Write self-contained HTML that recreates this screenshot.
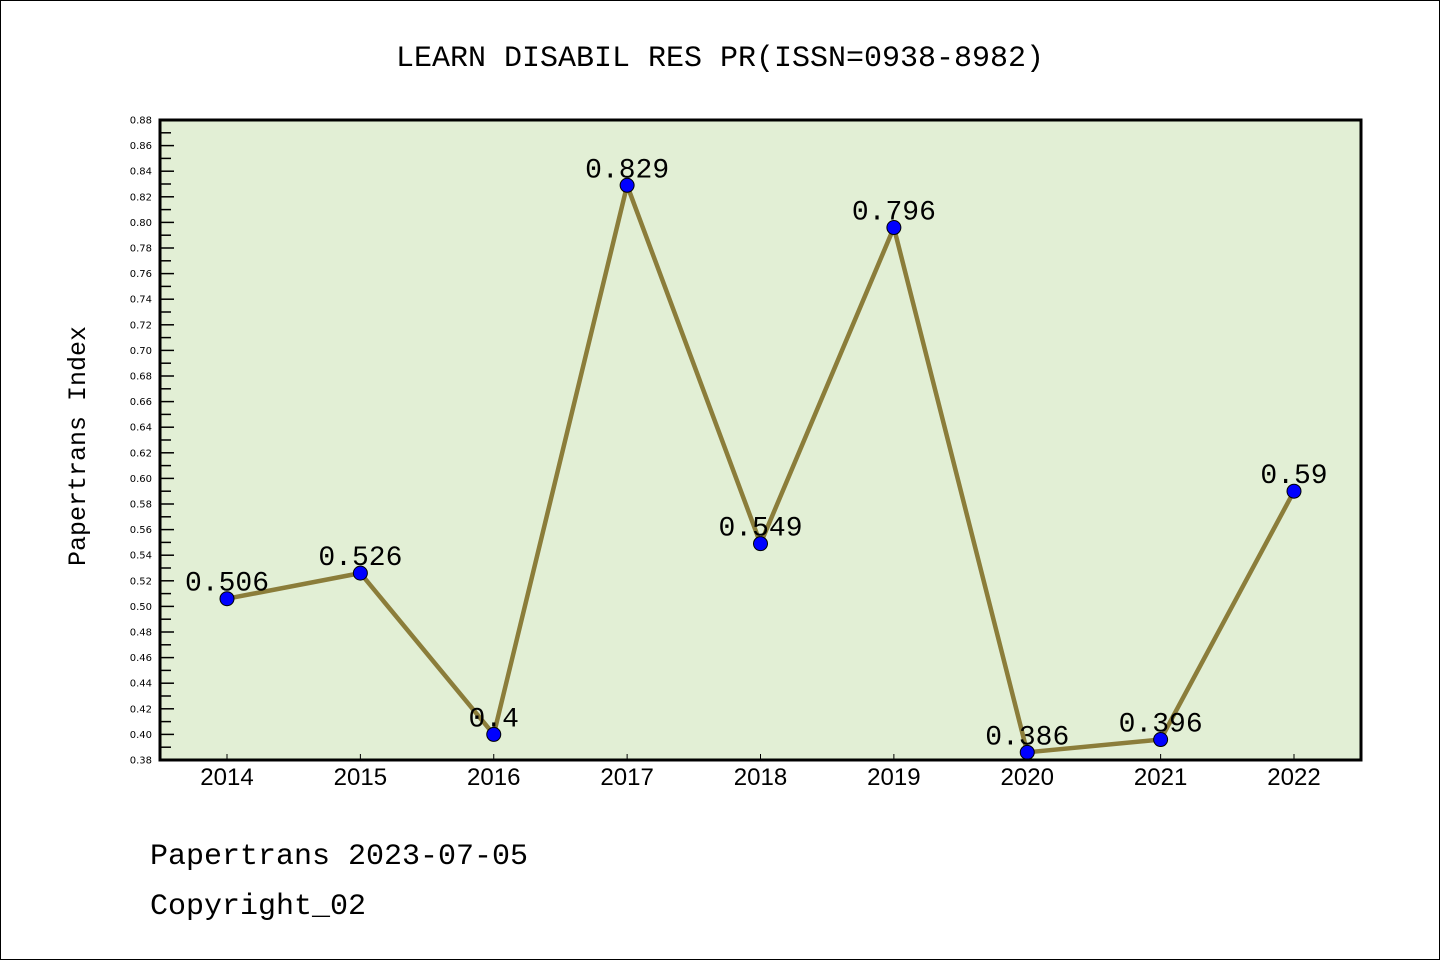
<!DOCTYPE html>
<html><head><meta charset="utf-8"><style>
html,body{margin:0;padding:0;background:#fff}
svg{display:block}
</style></head><body>
<svg id="chart" width="1440" height="960" xmlns="http://www.w3.org/2000/svg" font-family="'Liberation Mono','DejaVu Sans Mono',monospace">
<rect x="0.5" y="0.5" width="1439" height="959" fill="#fff" stroke="#000" stroke-width="1"/>
<text x="720" y="66" text-anchor="middle" font-size="30">LEARN DISABIL RES PR(ISSN=0938-8982)</text>
<rect x="160" y="120" width="1201" height="640" fill="#e2efd5"/>
<g id="yaxis"></g>
<g id="xaxis"></g>
<g id="series"></g>
<rect x="160" y="120" width="1201" height="640" fill="none" stroke="#000" stroke-width="3"/>
<text transform="translate(85,446) rotate(-90)" text-anchor="middle" font-size="25">Papertrans Index</text>
<text x="150" y="864" font-size="30">Papertrans 2023-07-05</text>
<text x="150" y="914" font-size="30">Copyright_02</text>
</svg>
<script>
const years = ['2014','2015','2016','2017','2018','2019','2020','2021','2022'];
const values = [0.506,0.526,0.4,0.829,0.549,0.796,0.386,0.396,0.59];
const valueLabels = ['0.506','0.526','0.4','0.829','0.549','0.796','0.386','0.396','0.59'];
const yMin = 0.38, yMax = 0.88, yStep = 0.02;

const NS='http://www.w3.org/2000/svg';
const x0=227, x1=1294, plotTop=120, plotBot=760;
function xs(i){return x0+(x1-x0)*i/(years.length-1);}
function ys(v){return plotBot-(v-yMin)/(yMax-yMin)*(plotBot-plotTop);}
function mk(tag,attrs,parent){const e=document.createElementNS(NS,tag);for(const k in attrs)e.setAttribute(k,attrs[k]);parent.appendChild(e);return e;}

const ya=document.getElementById('yaxis');
const n=Math.round((yMax-yMin)/yStep);
for(let i=0;i<=n;i++){
  const v=yMin+i*yStep, y=ys(v);
  const t=mk('line',{x1:160,x2:174,y1:y,y2:y,stroke:'#000','stroke-width':1.5},ya);
  
  
  const lb=mk('text',{x:152,y:y+3.5,'text-anchor':'end','font-size':10,'font-family':'DejaVu Sans, sans-serif'},ya);
  lb.textContent=v.toFixed(2);
  
  
  if(i<n){
    const ym=ys(v+yStep/2);
    const m=mk('line',{x1:160,x2:171,y1:ym,y2:ym,stroke:'#000','stroke-width':1.5},ya);
    
    
  }
}
const xa=document.getElementById('xaxis');
years.forEach((yr,i)=>{
  const x=xs(i);
  const t=mk('line',{x1:x,x2:x,y1:plotBot,y2:plotBot-6,stroke:'#000','stroke-width':1},xa);
  
  
  const lb=mk('text',{x:x,y:785,'text-anchor':'middle','font-size':24,'font-family':'Liberation Sans, sans-serif'},xa);
  lb.textContent=yr;
  
  
});
const se=document.getElementById('series');
const pts=values.map((v,i)=>xs(i)+','+ys(v)).join(' ');
const pl=mk('polyline',{points:pts,fill:'none',stroke:'#8b7d3a','stroke-width':4.5,'stroke-linejoin':'round'},se);


values.forEach((v,i)=>{
  const c=mk('circle',{cx:xs(i),cy:ys(v),r:7,fill:'#0000ff',stroke:'#000','stroke-width':1},se);
  
  
  const lb=mk('text',{x:xs(i),y:ys(v)-8,'text-anchor':'middle','font-size':28},se);
  lb.textContent=valueLabels[i];
  
  
});
</script>
</body></html>
